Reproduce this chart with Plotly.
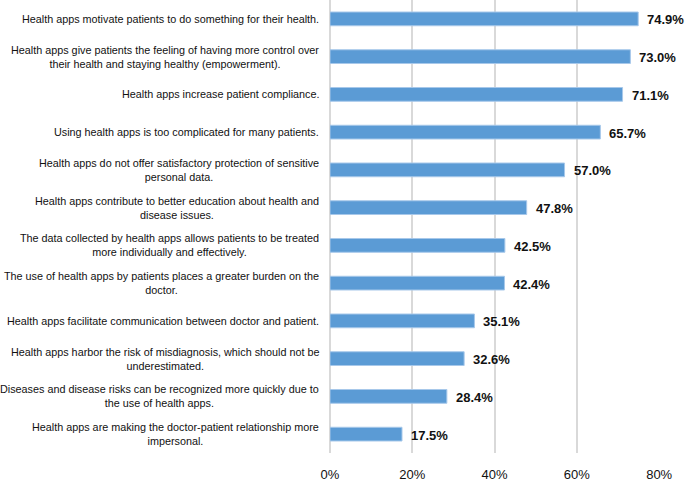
import plotly.graph_objects as go

labels = [
    "Health apps motivate patients to do something for their health.",
    "Health apps give patients the feeling of having more control over<br>their health and staying healthy (empowerment).",
    "Health apps increase patient compliance.",
    "Using health apps is too complicated for many patients.",
    "Health apps do not offer satisfactory protection of sensitive<br>personal data.",
    "Health apps contribute to better education about health and<br>disease issues.",
    "The data collected by health apps allows patients to be treated<br>more individually and effectively.",
    "The use of health apps by patients places a greater burden on the<br>doctor.",
    "Health apps facilitate communication between doctor and patient.",
    "Health apps harbor the risk of misdiagnosis, which should not be<br>underestimated.",
    "Diseases and disease risks can be recognized more quickly due to<br>the use of health apps.",
    "Health apps are making the doctor-patient relationship more<br>impersonal.",
]
values = [74.9, 73.0, 71.1, 65.7, 57.0, 47.8, 42.5, 42.4, 35.1, 32.6, 28.4, 17.5]
tick_vals = [0, 20, 40, 60, 80]
tick_text = ["0%", "20%", "40%", "60%", "80%"]

FONT = "Liberation Sans, Arial, Helvetica, sans-serif"

fig = go.Figure()
fig.add_trace(go.Bar(
    x=values, y=labels, orientation="h",
    marker=dict(color="#5B9BD5", line=dict(color="#A7C8EA", width=1)),
    hoverinfo="x+y",
))

annotations = []
for lab, v in zip(labels, values):
    annotations.append(dict(
        xref="paper", x=0, yref="y", y=lab, text=lab, showarrow=False,
        xanchor="right", yanchor="middle", align="center", xshift=-9,
        font=dict(family=FONT, size=10.8, color="#111"),
    ))
    annotations.append(dict(
        xref="x", x=v, yref="y", y=lab, text=f"<b>{v:.1f}%</b>", showarrow=False,
        xanchor="left", yanchor="middle", xshift=7, yshift=-1,
        font=dict(family=FONT, size=13, color="#111"),
    ))

fig.update_layout(
    width=685, height=482,
    margin=dict(l=330, r=25, t=0, b=20),
    paper_bgcolor="white", plot_bgcolor="white",
    bargap=0.636,
    showlegend=False,
    annotations=annotations,
    font=dict(family=FONT, size=13, color="#111"),
)
fig.update_xaxes(
    range=[0, 80.2], tickvals=tick_vals, ticktext=tick_text,
    showgrid=True, gridcolor="#D9D9D9", gridwidth=1.5,
    zeroline=True, zerolinecolor="#D9D9D9", zerolinewidth=1.5,
    showline=False, ticks="outside", ticklen=9, tickcolor="rgba(0,0,0,0)",
    tickfont=dict(family=FONT, size=13, color="#111"),
)
fig.update_yaxes(autorange="reversed", showticklabels=False, showgrid=False,
                 zeroline=False, showline=False)

fig.write_html(
    "out.html",
    config={"displayModeBar": False},
    post_script="document.body.style.margin='0';document.body.style.overflow='hidden';",
)
